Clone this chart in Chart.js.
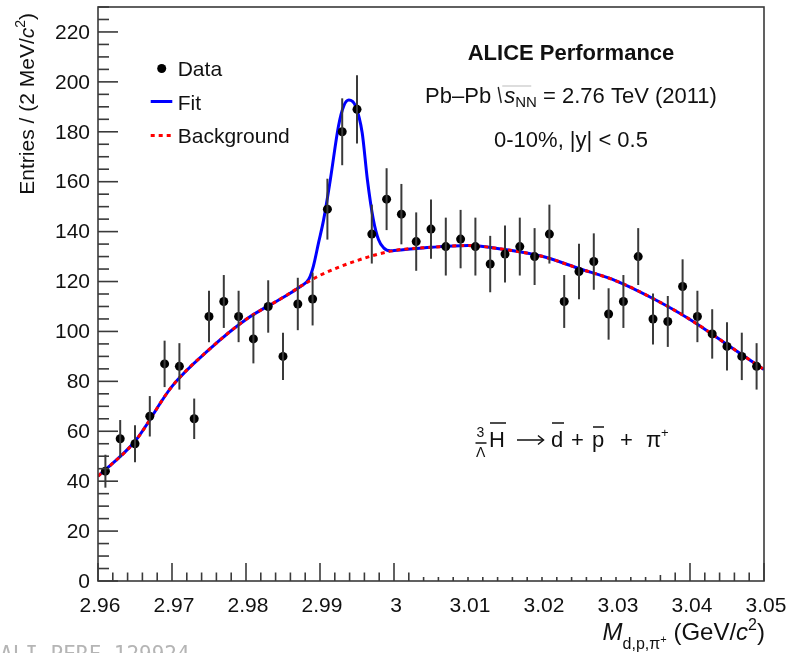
<!DOCTYPE html>
<html><head><meta charset="utf-8">
<script src="https://cdn.jsdelivr.net/npm/chart.js@4/dist/chart.umd.min.js"></script>
<style>html,body{margin:0;padding:0;background:#fff;}canvas{display:block;}</style>
</head><body>
<canvas id="c" width="787" height="653"></canvas>
<script>
// ---- data ----
const binCenters = [2.961,2.963,2.965,2.967,2.969,2.971,2.973,2.975,2.977,2.979,
  2.981,2.983,2.985,2.987,2.989,2.991,2.993,2.995,2.997,2.999,
  3.001,3.003,3.005,3.007,3.009,3.011,3.013,3.015,3.017,3.019,
  3.021,3.023,3.025,3.027,3.029,3.031,3.033,3.035,3.037,3.039,
  3.041,3.043,3.045,3.047,3.049];
const counts = [44,57,55,66,87,86,65,106,112,106,
  97,110,90,111,113,149,180,189,139,153,
  147,136,141,134,137,134,127,131,134,130,
  139,112,124,128,107,112,130,105,104,118,
  106,99,94,90,86];
const countErrors = [6.6,7.5,7.4,8.1,9.3,9.3,8.1,10.3,10.6,10.3,
  9.8,10.5,9.5,10.5,10.6,12.2,13.4,13.7,11.8,12.4,
  12.1,11.7,11.9,11.6,11.7,11.6,11.3,11.4,11.6,11.4,
  11.8,10.6,11.1,11.3,10.3,10.6,11.4,10.2,10.2,10.9,
  10.3,9.9,9.7,9.5,9.3];
const bgX = [2.960,2.965,2.970,2.975,2.980,2.985,2.9875,2.990,2.995,3.000,3.005,3.010,3.015,3.020,3.025,3.030,3.035,3.040,3.045,3.050];
const bgY = [42,56,78,92.7,104.8,113.6,118.3,122.5,128.4,132.4,133.7,134.4,132.8,130.1,125.2,120.3,113.2,104.8,94.8,84.7];
const peakX = [2.9885,2.9891,2.9898,2.9905,2.9914,2.9925,2.9932,2.9939,2.9948,2.9957,2.9964,2.9972,2.9979,2.9986,2.9995];
const peakY = [121.0,126.1,135.5,144.9,160.9,182.3,190.3,192.7,190.3,179.6,160.9,144.9,136.8,133.5,132.3];
const xTickValues = [2.96,2.97,2.98,2.99,3.00,3.01,3.02,3.03,3.04,3.05];
const xTickLabels = ['2.96','2.97','2.98','2.99','3','3.01','3.02','3.03','3.04','3.05'];
const yTickValues = [0,20,40,60,80,100,120,140,160,180,200,220];
const yTickLabels = ['0','20','40','60','80','100','120','140','160','180','200','220'];

// ---- build datasets ----
const dataPts = binCenters.map((x,i)=>({x, y:counts[i]}));
const bgPts = bgX.map((x,i)=>({x, y:bgY[i]}));
const fitPts = bgPts.filter(p=>p.x<peakX[0]-0.0005 || p.x>peakX[peakX.length-1])
  .concat(peakX.map((x,i)=>({x, y:peakY[i]})))
  .sort((a,b)=>a.x-b.x);

const FONT = '"Liberation Sans", Arial, Helvetica, sans-serif';
const TXT = '#111';

function f(size, style){ return (style||'') + ' ' + size + 'px ' + FONT; }

const decor = {
  id:'decor',
  afterDatasetsDraw(chart){
    const ctx = chart.ctx, ys = chart.scales.y;
    ctx.save();
    const meta = chart.getDatasetMeta(0);
    ctx.strokeStyle = '#3a3a3a'; ctx.lineWidth = 2;
    meta.data.forEach((pt,i)=>{
      ctx.beginPath();
      ctx.moveTo(pt.x, ys.getPixelForValue(counts[i]+countErrors[i]));
      ctx.lineTo(pt.x, ys.getPixelForValue(counts[i]-countErrors[i]));
      ctx.stroke();
    });
    ctx.restore();
  },
  afterDraw(chart){
    const ctx = chart.ctx, xs = chart.scales.x, ys = chart.scales.y, a = chart.chartArea;
    ctx.save();
    // frame
    ctx.strokeStyle = '#3a3a3a'; ctx.lineWidth = 1.6;
    ctx.strokeRect(a.left, a.top, a.right-a.left, a.bottom-a.top);
    // y ticks every 5, majors every 20
    for (let v=0; v<=230; v+=5){
      const y = ys.getPixelForValue(v);
      const len = (v%20===0) ? 20 : 11;
      ctx.beginPath(); ctx.moveTo(a.left, y); ctx.lineTo(a.left+len, y); ctx.stroke();
    }
    // x ticks every 0.002
    for (let k=0; k<=45; k++){
      const v = 2.96 + k*0.002;
      const x = xs.getPixelForValue(v);
      let len;
      if ([0,5,10,15,20,40,45].includes(k)) len = 18;
      else if (k>=22 && k<=37) len = 4;
      else if (k===38) len = 6;
      else len = 8.5;
      ctx.beginPath(); ctx.moveTo(x, a.bottom); ctx.lineTo(x, a.bottom-len); ctx.stroke();
    }
    // tick labels
    ctx.fillStyle = TXT;
    ctx.font = f(21);
    ctx.textAlign = 'right'; ctx.textBaseline = 'middle';
    yTickValues.forEach((v,i)=>{ ctx.fillText(yTickLabels[i], a.left-8, ys.getPixelForValue(v)+1); });
    ctx.textAlign = 'center'; ctx.textBaseline = 'alphabetic';
    xTickValues.forEach((v,i)=>{ ctx.fillText(xTickLabels[i], xs.getPixelForValue(v)+2, 612); });

    function runsWidth(runs){
      let w=0; runs.forEach(r=>{ ctx.font = f(r.size, r.style); w += r.w!==undefined ? r.w : ctx.measureText(r.t).width; }); return w;
    }
    function drawRuns(runs, x, y){
      runs.forEach(r=>{
        if (r.draw){ r.draw(x, y); x += r.w; return; }
        ctx.font = f(r.size, r.style);
        ctx.fillText(r.t, x, y + (r.dy||0));
        x += ctx.measureText(r.t).width;
      });
    }

    // y axis title (rotated), top end at y=14
    const yRuns = [
      {t:'Entries / (2 MeV/', size:21},
      {t:'c', size:21, style:'italic'},
      {t:'2', size:14, dy:-9},
      {t:')', size:21}
    ];
    ctx.save();
    ctx.translate(34, 13);
    ctx.rotate(-Math.PI/2);
    ctx.textAlign = 'left'; ctx.textBaseline = 'alphabetic';
    const yw = runsWidth(yRuns);
    drawRuns(yRuns, -yw, 0);
    ctx.restore();

    // x axis title, right aligned at 765
    ctx.textAlign = 'left';
    const xRuns = [
      {t:'M', size:24, style:'italic'},
      {t:'d,p,\u03C0', size:16, dy:9},
      {t:'+', size:11, dy:3},
      {t:' (GeV/', size:24},
      {t:'c', size:24, style:'italic'},
      {t:'2', size:16, dy:-10},
      {t:')', size:24}
    ];
    const xw = runsWidth(xRuns);
    drawRuns(xRuns, 765-xw, 640);

    // legend
    ctx.fillStyle = '#000';
    ctx.beginPath(); ctx.arc(161.7, 68.5, 4.5, 0, Math.PI*2); ctx.fill();
    ctx.strokeStyle = '#0000ff'; ctx.lineWidth = 3; ctx.setLineDash([]);
    ctx.beginPath(); ctx.moveTo(150.7, 101.5); ctx.lineTo(172.3, 101.5); ctx.stroke();
    ctx.strokeStyle = '#ff0000'; ctx.setLineDash([4,4]);
    ctx.beginPath(); ctx.moveTo(150.7, 135.5); ctx.lineTo(172.3, 135.5); ctx.stroke();
    ctx.setLineDash([]);
    ctx.fillStyle = TXT; ctx.font = f(21);
    ctx.fillText('Data', 177.7, 76);
    ctx.fillText('Fit', 177.7, 110);
    ctx.fillText('Background', 177.7, 143);

    // header texts
    ctx.textAlign = 'center';
    ctx.font = f(22, 'bold');
    ctx.fillText('ALICE Performance', 571, 60);
    ctx.font = f(22);
    ctx.fillText('0-10%, |y| < 0.5', 571, 147);
    ctx.textAlign = 'left';
    const pbRuns = [
      {t:'Pb\u2013Pb ', size:22},
      {w:7, draw:(x,y)=>{
        ctx.save(); ctx.strokeStyle='#222'; ctx.lineWidth=1.4;
        ctx.beginPath(); ctx.moveTo(x+1, y-16); ctx.lineTo(x+4, y); ctx.stroke();
        ctx.strokeStyle='#bbb'; ctx.lineWidth=1;
        ctx.beginPath(); ctx.moveTo(x+5, y-17); ctx.lineTo(x+34, y-17); ctx.stroke();
        ctx.restore();
      }},
      {t:'s', size:22, style:'italic'},
      {t:'NN', size:15, dy:4},
      {t:' = 2.76 TeV (2011)', size:22}
    ];
    const pw = runsWidth(pbRuns);
    drawRuns(pbRuns, 571-pw/2, 103);

    // decay formula
    ctx.fillStyle = TXT; ctx.strokeStyle = TXT; ctx.lineWidth = 1.5;
    ctx.font = f(14); ctx.fillText('3', 476.5, 437);
    ctx.fillText('\u039B', 476, 457);
    ctx.font = f(22);
    ctx.fillText('H', 489, 447);
    ctx.fillText('d', 551, 447);
    ctx.fillText('+', 571, 447);
    ctx.fillText('p', 592, 447);
    ctx.fillText('+', 620, 447);
    ctx.fillText('\u03C0', 646, 447);
    ctx.font = f(13); ctx.fillText('+', 661, 437);
    function bar(x1,x2,y){ ctx.beginPath(); ctx.moveTo(x1,y); ctx.lineTo(x2,y); ctx.stroke(); }
    bar(475.5, 486.5, 443);
    bar(490, 506, 423);
    bar(552, 564, 423);
    bar(593, 604, 427);
    bar(517, 543, 440);
    ctx.beginPath(); ctx.moveTo(538, 435.5); ctx.lineTo(543.5, 440); ctx.lineTo(538, 444.5); ctx.stroke();

    // watermark
    ctx.fillStyle = '#b5b5b5';
    ctx.font = '21px "DejaVu Sans Mono", "Liberation Mono", monospace';
    ctx.textBaseline = 'top';
    ctx.fillText('ALI-PERF-129924', 0, 645);
    ctx.restore();
  }
};

new Chart(document.getElementById('c'), {
  type:'scatter',
  data:{ datasets:[
    { label:'Data', data:dataPts, showLine:false, pointRadius:4.5, pointHoverRadius:4.5,
      backgroundColor:'#000', borderColor:'#000', borderWidth:0 },
    { label:'Background', data:bgPts, showLine:true, pointRadius:0, borderColor:'#ff0000',
      borderWidth:3, borderDash:[4,4], cubicInterpolationMode:'monotone', fill:false },
    { label:'Fit', data:fitPts, showLine:true, pointRadius:0, borderColor:'#0000ff',
      borderWidth:3, cubicInterpolationMode:'monotone', fill:false }
  ]},
  options:{
    responsive:false, animation:false, devicePixelRatio:1,
    layout:{ padding:{ left:98, right:23, top:7, bottom:72 } },
    plugins:{ legend:{display:false}, tooltip:{enabled:false} },
    scales:{
      x:{ type:'linear', min:2.96, max:3.05, display:false },
      y:{ type:'linear', min:0, max:230, display:false }
    }
  },
  plugins:[decor]
});
</script>
</body></html>
